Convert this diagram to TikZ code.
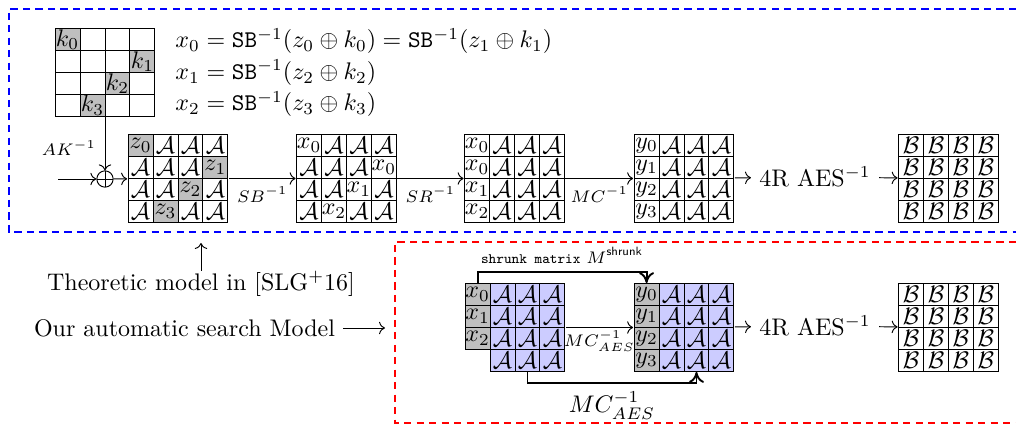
\documentclass[tikz,border=0pt]{standalone}
\usepackage{amsmath,amssymb}
\usepackage{tikz}
\usetikzlibrary{arrows.meta,calc,positioning,matrix}
\newcommand{\cA}{\mathcal{A}}
\newcommand{\cB}{\mathcal{B}}
\tikzset{
  grid/.style={matrix of math nodes,inner sep=0pt,
    column sep=-\pgflinewidth,row sep=-\pgflinewidth,
    nodes={draw,inner sep=0pt,minimum width=10.4pt,minimum height=9.15pt,anchor=center}},
  gk/.style={fill=gray!50},
  bl/.style={fill=blue!20},
  lbl/.style={font=\scriptsize},
  xorsym/.style={circle,draw,inner sep=0pt,minimum size=6.8pt,
    path picture={\draw (path picture bounding box.north) -- (path picture bounding box.south)
      (path picture bounding box.west) -- (path picture bounding box.east);}},
  brk/.style={thick,-{To[length=1.6mm,width=2.2mm]}},
  box/.style={thick,dash pattern=on 3pt off 2.2pt},
}

\begin{document}
\begin{tikzpicture}[x=0.4167pt,y=-0.4167pt,>=To]
  \useasboundingbox (0,0) rectangle (1016,426);
  \draw[box,blue] (1016,9) -| (9,232) -- (1016,232);
  \draw[box,red] (1016,242) -| (395,423) -- (1016,423);

  \matrix (kmat) at (105,72.5) [grid,nodes in empty cells] {
    |[gk]| k_0 & & & \\
    & & & |[gk]| k_1 \\
    & & |[gk]| k_2 & \\
    & |[gk]| k_3 & & \\
  };
  \node[anchor=base west] (eq0) at (167,48) {$x_0=\texttt{SB}^{-1}(z_0\oplus k_0)=\texttt{SB}^{-1}(z_1\oplus k_1)$};
  \node[anchor=base west] (eq1) at (167,79.5) {$x_1=\texttt{SB}^{-1}(z_2\oplus k_2)$};
  \node[anchor=base west] (eq2) at (167,111) {$x_2=\texttt{SB}^{-1}(z_3\oplus k_3)$};

  \node[xorsym] (xor) at (105,179) {};
  \coordinate (in) at (58,179);
  \node[lbl] (aklbl) at (69,148) {$AK^{-1}$};
  \draw[->] (in) -- (xor);
  \draw[->] (kmat.south) -- (xor.north);

  \matrix (zmat) at (178,178.5) [grid] {
    |[gk]| z_0 & \cA & \cA & \cA \\
    \cA & \cA & \cA & |[gk]| z_1 \\
    \cA & \cA & |[gk]| z_2 & \cA \\
    \cA & |[gk]| z_3 & \cA & \cA \\
  };
  \matrix (xmat) at (346.5,178.5) [grid] {
    x_0 & \cA & \cA & \cA \\
    \cA & \cA & \cA & x_0 \\
    \cA & \cA & x_1 & \cA \\
    \cA & x_2 & \cA & \cA \\
  };
  \matrix (smat) at (514.5,178.5) [grid] {
    x_0 & \cA & \cA & \cA \\
    x_0 & \cA & \cA & \cA \\
    x_1 & \cA & \cA & \cA \\
    x_2 & \cA & \cA & \cA \\
  };
  \matrix (ymat) at (684,178.5) [grid] {
    y_0 & \cA & \cA & \cA \\
    y_1 & \cA & \cA & \cA \\
    y_2 & \cA & \cA & \cA \\
    y_3 & \cA & \cA & \cA \\
  };
  \node (aes1) at (815,177) {4R AES$^{-1}$};
  \matrix (bmat) at (948.5,178.5) [grid] {
    \cB & \cB & \cB & \cB \\
    \cB & \cB & \cB & \cB \\
    \cB & \cB & \cB & \cB \\
    \cB & \cB & \cB & \cB \\
  };
  \draw[->] (xor) -- (zmat);
  \draw[->] (zmat) -- node[lbl,below]{$SB^{-1}$} (xmat);
  \draw[->] (xmat) -- node[lbl,below]{$SR^{-1}$} (smat);
  \draw[->] (smat) -- node[lbl,below]{$MC^{-1}$} (ymat);
  \draw[->] (ymat) -- (aes1);
  \draw[->] (aes1) -- (bmat);

  \node[inner sep=0pt] (theo) at (201,284) {Theoretic model in [SLG$^+$16]};
  \coordinate (theotip) at (201,243);
  \draw[->] (theo) -- (theotip);
  \node (auto) at (184.5,328) {Our automatic search Model};
  \coordinate (redin) at (385,328);
  \draw[->] (auto) -- (redin);

  \matrix (lmat) at (515,327.5) [grid,column 1/.style={nodes={gk}},
      column 2/.style={nodes={bl}},column 3/.style={nodes={bl}},column 4/.style={nodes={bl}}] {
    x_0 & \cA & \cA & \cA \\
    x_1 & \cA & \cA & \cA \\
    x_2 & \cA & \cA & \cA \\
        & \cA & \cA & \cA \\
  };
  \matrix (rmat) at (684,327.5) [grid,column 1/.style={nodes={gk}},
      column 2/.style={nodes={bl}},column 3/.style={nodes={bl}},column 4/.style={nodes={bl}}] {
    y_0 & \cA & \cA & \cA \\
    y_1 & \cA & \cA & \cA \\
    y_2 & \cA & \cA & \cA \\
    y_3 & \cA & \cA & \cA \\
  };
  \node (aes2) at (815,326) {4R AES$^{-1}$};
  \matrix (b2mat) at (948.5,327.5) [grid] {
    \cB & \cB & \cB & \cB \\
    \cB & \cB & \cB & \cB \\
    \cB & \cB & \cB & \cB \\
    \cB & \cB & \cB & \cB \\
  };
  \draw[->] (lmat) -- node[lbl,below,inner sep=1pt]{$MC^{-1}_{AES}$} (rmat);
  \draw[->] (rmat) -- (aes2);
  \draw[->] (aes2) -- (b2mat);
  \draw[brk] (lmat-1-1.north) -- ++(0,-11) -| node[lbl,pos=0.25,above]{\fontsize{6}{7}\selectfont\texttt{shrunk matrix} \scriptsize$M^{\textsf{shrunk}}$} (rmat-1-1.north);
  \draw[brk] (lmat-4-3.south) -- ++(0,11) -| node[pos=0.25,below]{$MC^{-1}_{AES}$} (rmat-4-3.south);
\end{tikzpicture}
\end{document}
